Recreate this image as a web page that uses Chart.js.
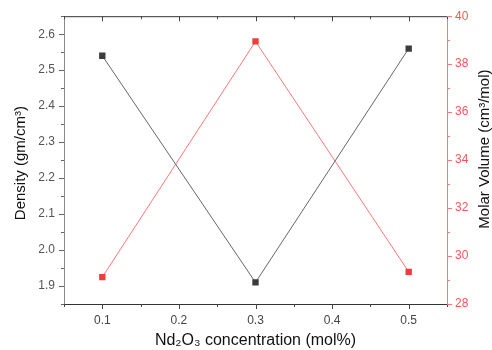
<!DOCTYPE html>
<html lang="en">
<head>
    <meta charset="UTF-8">
    <title>Density and Molar Volume</title>
    <script src="https://cdn.jsdelivr.net/npm/chart.js"></script>
    <style>
        body { margin: 0; background: #fff; }
        #wrap { width: 492px; height: 350px; }
    </style>
</head>
<body>
    <div id="wrap"><canvas id="chart" width="492" height="350"></canvas></div>

    <script>
        // Données
        const concentration = [0.1, 0.3, 0.5];
        const density = [2.54, 1.91, 2.56];
        const molarVolume = [29.12, 38.95, 29.34];

        // Graduations
        const xTicks = [0.1, 0.2, 0.3, 0.4, 0.5];
        const xMinor = [0.05, 0.15, 0.25, 0.35, 0.45, 0.55];
        const densityTicks = [1.9, 2.0, 2.1, 2.2, 2.3, 2.4, 2.5, 2.6];
        const densityMinor = [1.85, 1.95, 2.05, 2.15, 2.25, 2.35, 2.45, 2.55, 2.65];
        const volumeTicks = [28, 30, 32, 34, 36, 38, 40];
        const volumeMinor = [29, 31, 33, 35, 37, 39];

        // Titres des axes
        const xTitle = 'Nd₂O₃ concentration (mol%)';
        const densityTitle = 'Density (gm/cm³)';
        const volumeTitle = 'Molar Volume (cm³/mol)';

        const FONT = "'Liberation Sans', Arial, sans-serif";

        // Petits traits de graduation + titres verticaux (lus de bas en haut)
        const tickMarks = {
            id: 'tickMarks',
            afterDraw(chart) {
                const c = chart.ctx;
                const a = chart.chartArea;
                const x = chart.scales.x, y = chart.scales.y, y2 = chart.scales.y2;
                c.save();
                c.lineWidth = 1;

                // cadre du haut
                c.strokeStyle = '#333';
                c.beginPath();
                c.moveTo(a.left, a.top + 0.5);
                c.lineTo(a.right, a.top + 0.5);
                c.stroke();

                // axe x (bas vers l'extérieur, haut vers l'intérieur)
                c.strokeStyle = '#444';
                c.beginPath();
                xTicks.forEach(v => {
                    const px = Math.round(x.getPixelForValue(v)) + 0.5;
                    c.moveTo(px, a.bottom); c.lineTo(px, a.bottom + 5);
                    c.moveTo(px, a.top); c.lineTo(px, a.top + 5);
                });
                xMinor.forEach(v => {
                    const px = Math.round(x.getPixelForValue(v)) + 0.5;
                    c.moveTo(px, a.bottom); c.lineTo(px, a.bottom + 3);
                    c.moveTo(px, a.top); c.lineTo(px, a.top + 3);
                });
                c.stroke();

                // axe gauche
                c.strokeStyle = '#666';
                c.beginPath();
                densityTicks.forEach(v => {
                    const py = Math.round(y.getPixelForValue(v)) + 0.5;
                    c.moveTo(a.left, py); c.lineTo(a.left - 5, py);
                });
                densityMinor.forEach(v => {
                    const py = Math.round(y.getPixelForValue(v)) + 0.5;
                    c.moveTo(a.left, py); c.lineTo(a.left - 3, py);
                });
                c.stroke();

                // axe droit
                c.strokeStyle = '#f77';
                c.beginPath();
                volumeTicks.forEach(v => {
                    const py = Math.round(y2.getPixelForValue(v)) + 0.5;
                    c.moveTo(a.right, py); c.lineTo(a.right + 5, py);
                });
                volumeMinor.forEach(v => {
                    const py = Math.round(y2.getPixelForValue(v)) + 0.5;
                    c.moveTo(a.right, py); c.lineTo(a.right + 3, py);
                });
                c.stroke();

                // titres verticaux
                const midY = (a.top + a.bottom) / 2;
                c.fillStyle = '#111';
                c.textAlign = 'center';
                c.textBaseline = 'middle';

                c.save();
                c.translate(y.left + 21, midY + 3);
                c.rotate(-Math.PI / 2);
                c.font = '15px ' + FONT;
                c.fillText(densityTitle, 0, 0);
                c.restore();

                c.save();
                c.translate(y2.right - 7, midY - 11);
                c.rotate(-Math.PI / 2);
                c.font = '15px ' + FONT;
                c.fillText(volumeTitle, 0, 0);
                c.restore();

                c.restore();
            }
        };

        const ctx = document.getElementById('chart').getContext('2d');
        new Chart(ctx, {
            type: 'line',
            data: {
                labels: concentration,
                datasets: [
                    {
                        label: 'Density',
                        data: concentration.map((c, i) => ({ x: c, y: density[i] })),
                        yAxisID: 'y',
                        borderColor: '#666',
                        backgroundColor: '#3c3c3c',
                        borderWidth: 1,
                        pointStyle: 'rect',
                        pointRadius: 4.5,
                        pointBorderWidth: 0,
                        tension: 0
                    },
                    {
                        label: 'Molar Volume',
                        data: concentration.map((c, i) => ({ x: c, y: molarVolume[i] })),
                        yAxisID: 'y2',
                        borderColor: '#f77',
                        backgroundColor: '#f23c3c',
                        borderWidth: 1,
                        pointStyle: 'rect',
                        pointRadius: 4.5,
                        pointBorderWidth: 0,
                        tension: 0
                    }
                ]
            },
            options: {
                responsive: false,
                animation: false,
                layout: { padding: { top: 15, left: 0, right: 0, bottom: 0 } },
                plugins: { legend: { display: false }, tooltip: { enabled: false } },
                scales: {
                    x: {
                        type: 'linear',
                        min: 0.05,
                        max: 0.55,
                        afterBuildTicks: s => { s.ticks = xTicks.map(v => ({ value: v })); },
                        afterFit: s => { s.height = 46; },
                        grid: { display: false, drawTicks: false },
                        border: { display: true, color: '#333', width: 1 },
                        ticks: {
                            padding: 9,
                            color: '#444',
                            font: { family: FONT, size: 12 },
                            callback: v => v.toFixed(1)
                        },
                        title: {
                            display: true,
                            text: xTitle,
                            color: '#111',
                            font: { family: FONT, size: 16 },
                            padding: { top: 0, bottom: 0 }
                        }
                    },
                    y: {
                        position: 'left',
                        min: 1.85,
                        max: 2.65,
                        afterBuildTicks: s => { s.ticks = densityTicks.map(v => ({ value: v })); },
                        afterFit: s => { s.width = 64; },
                        grid: { display: false, drawTicks: false },
                        border: { display: true, color: '#888', width: 1 },
                        ticks: {
                            padding: 9,
                            color: '#555',
                            font: { family: FONT, size: 12 },
                            callback: v => v.toFixed(1)
                        }
                    },
                    y2: {
                        position: 'right',
                        min: 28,
                        max: 40,
                        afterBuildTicks: s => { s.ticks = volumeTicks.map(v => ({ value: v })); },
                        afterFit: s => { s.width = 45; },
                        grid: { display: false, drawTicks: false },
                        border: { display: true, color: '#f77', width: 1 },
                        ticks: {
                            padding: 8,
                            color: '#f55',
                            font: { family: FONT, size: 12 },
                            callback: v => v
                        }
                    }
                }
            },
            plugins: [tickMarks]
        });
    </script>
</body>
</html>
